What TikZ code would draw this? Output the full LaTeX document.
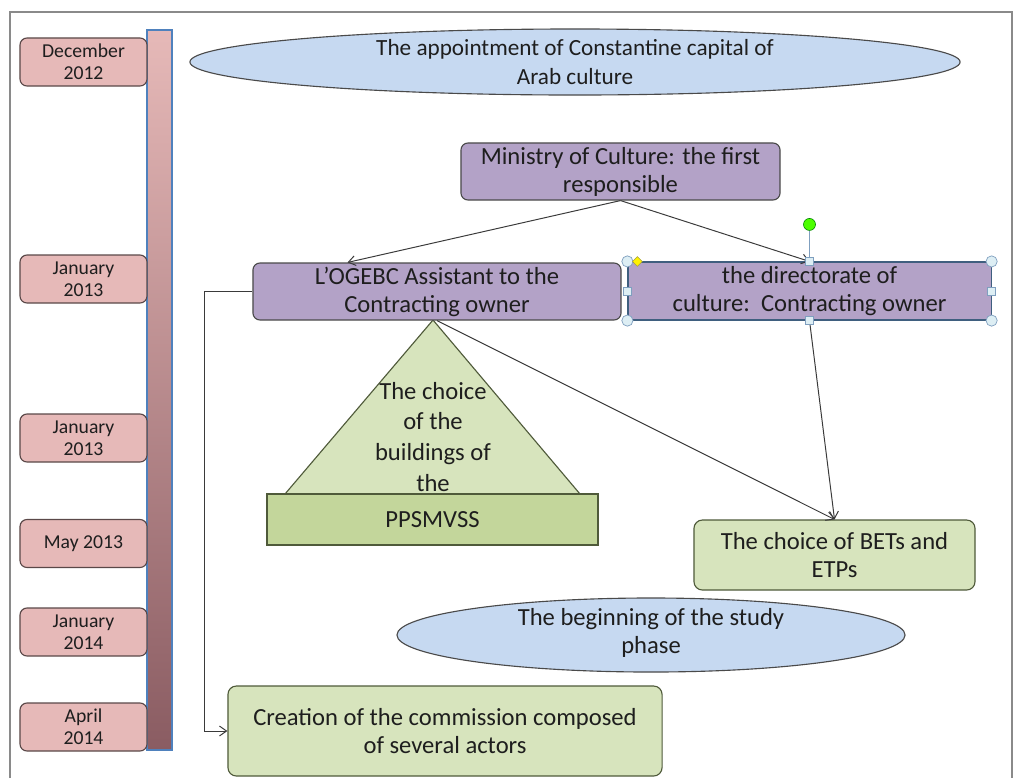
\documentclass[tikz,border=0pt]{standalone}
\usepackage{fontspec}
\setmainfont{Carlito}
\usepackage{xcolor}
\usetikzlibrary{arrows.meta, positioning, shapes.geometric}

\definecolor{txtgray}{HTML}{1E1E1E}
\definecolor{framegray}{HTML}{8A8A8A}
\definecolor{linegray}{HTML}{3A3A3A}
\definecolor{datepink}{HTML}{E6B9B8}
\definecolor{dateedge}{HTML}{5A4848}
\definecolor{barbrown}{HTML}{8A5C62}
\definecolor{barblue}{HTML}{4F81BD}
\definecolor{actorpurple}{HTML}{B3A2C7}
\definecolor{boxedge}{HTML}{4A4A4A}
\definecolor{diredge}{HTML}{3F5F7F}
\definecolor{taskgreen}{HTML}{D7E4BD}
\definecolor{ppsgreen}{HTML}{C3D69B}
\definecolor{greenedge}{HTML}{4F5A3A}
\definecolor{eventblue}{HTML}{C6D9F1}
\definecolor{handlefill}{HTML}{DDEEF4}
\definecolor{handleedge}{HTML}{7F9FBF}

\newcommand\boxfont{\fontsize{17.5}{20}\selectfont}
\newcommand\datefont{\fontsize{14}{15.5}\selectfont}

\begin{document}
\begin{tikzpicture}[
    x=0.025cm, y=-0.025cm,
    every node/.style={font=\boxfont, text=txtgray, align=center},
    datebox/.style={rectangle, rounded corners=5pt, draw=dateedge, fill=datepink, line width=0.8pt,
        minimum width=3.175cm, minimum height=1.2cm, inner sep=0pt, font=\datefont},
    actor/.style={rectangle, rounded corners=5pt, draw=boxedge, fill=actorpurple, line width=0.8pt, inner sep=0pt},
    task/.style={rectangle, rounded corners=6pt, draw=greenedge, fill=taskgreen, line width=0.8pt, inner sep=0pt},
    event/.style={ellipse, draw=boxedge, fill=eventblue, line width=0.8pt, inner sep=0pt},
    arrow/.style={-{Straight Barb[length=5pt,width=7pt]}, line width=0.7pt, draw=linegray},
    handle/.style={circle, draw=handleedge, fill=handlefill, minimum size=0.28cm, inner sep=0pt, line width=0.5pt},
    sqhandle/.style={rectangle, draw=handleedge, fill=handlefill, minimum size=0.2cm, inner sep=0pt, line width=0.5pt}
  ]
    \useasboundingbox (0,0) rectangle (1016,778);

    % outer frame
    \draw[framegray, line width=1.2pt] (10,778) -- (10,12) -- (1012,12) -- (1012,778);

    % Timeline (left)
    \draw[barblue, line width=1pt, top color=datepink, bottom color=barbrown] (147,30) rectangle (172,750);
    \node[datebox] (dec12) at (83.5,62) {December\\2012};
    \node[datebox] (jan13a) at (83.5,279) {January\\2013};
    \node[datebox] (jan13b) at (83.5,438) {January\\2013};
    \node[datebox] (may13) at (83.5,543.5) {May 2013};
    \node[datebox] (jan14) at (83.5,632) {January\\2014};
    \node[datebox] (apr14) at (83.5,727) {April\\2014};

    % Events
    \node[event, minimum width=19.25cm, minimum height=1.65cm] (appoint) at (575,62) {};
    \node[font=\fontsize{16.5}{20}\selectfont] (appointtxt) at (appoint)
        {The appointment of Constantine capital of\\Arab culture};
    \node[event, minimum width=12.7cm, minimum height=1.85cm] (study) at (651,635) {};
    \node (studytxt) at (651,633) {The beginning of the study\\phase};

    % Actors
    \node[actor, minimum width=7.975cm, minimum height=1.425cm] (ministry) at (620.5,171.5)
        {Ministry of Culture: the first\\responsible};
    % choice of the buildings
    \draw[greenedge, line width=0.8pt, fill=taskgreen] (433,320) -- (285,494) -- (580,494) -- cycle;
    \node[font=\fontsize{17.5}{22}\selectfont] (choicetxt) at (433,437)
        {The choice\\of the\\buildings of\\the};
    \node[rectangle, draw=greenedge, fill=ppsgreen, line width=0.8pt, inner sep=0pt,
        minimum width=8.275cm, minimum height=1.275cm] (pps) at (432.5,519.5) {PPSMVSS};
    \node[actor, minimum width=9.2cm, minimum height=1.425cm] (ogebc) at (437,291.5)
        {L’OGEBC Assistant to the\\Contracting owner};
    \node[rectangle, draw=diredge, fill=actorpurple, line width=0.8pt, inner sep=0pt,
        minimum width=9.075cm, minimum height=1.45cm] (dir) at (809.5,291)
        {the directorate of\\culture:\ \ Contracting owner};

    % Tasks
    \node[task, minimum width=7.025cm, minimum height=1.75cm] (bets) at (834.5,555)
        {The choice of BETs and\\ETPs};
    \node[task, minimum width=10.85cm, minimum height=2.25cm] (creation) at (445,731)
        {Creation of the commission composed\\of several actors};

    % Links
    \draw[arrow] (ministry.south) -- (ogebc.162);
    \draw[arrow] (ministry.south) -- (dir.north);
    \draw[arrow] (ogebc.south) -- (bets.north);
    \draw[arrow] (dir.south) -- (bets.north);
    \draw[arrow] (ogebc.west) -- ++(-48,0) |- (creation.west);

    % selection handles on the directorate box
    \coordinate (rot) at ([yshift=0.925cm]dir.north);
    \draw[handleedge, line width=0.6pt] (dir.north) -- (rot);
    \node[circle, draw=green!50!black, fill=green!60!lime, minimum size=0.3cm, inner sep=0pt] (rothandle) at (rot) {};
    \foreach \a in {north west, north east, south west, south east}
        \node[handle] at (dir.\a) {};
    \foreach \a in {north, south, east, west}
        \node[sqhandle] at (dir.\a) {};
    \node[diamond, draw=yellow!60!black, fill=yellow, minimum size=0.25cm, inner sep=0pt] (adj)
        at ([xshift=0.25cm]dir.north west) {};
\end{tikzpicture}
\end{document}
